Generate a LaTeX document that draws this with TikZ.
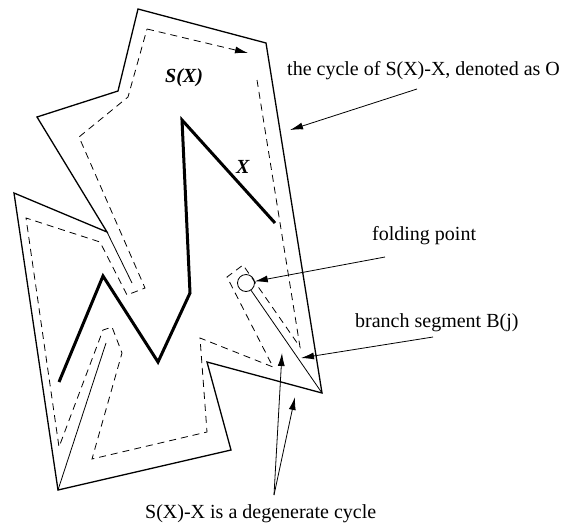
\documentclass[tikz,border=0pt]{standalone}
\usepackage{fontspec}
\setmainfont{Liberation Serif}
\usetikzlibrary{arrows.meta}
\tikzset{
  outer/.style={line width=1.3pt, line join=miter},
  thinline/.style={line width=0.8pt},
  xpath/.style={line width=3pt, line join=miter},
  dcycle/.style={line width=0.8pt, dash pattern=on 7pt off 5pt},
  pointer/.style={line width=0.8pt, -{Latex[length=13pt,width=7pt]}},
  lbl/.style={anchor=base west, inner sep=0pt, font=\fontsize{20}{24}\selectfont},
  blbl/.style={anchor=base west, inner sep=0pt, font=\fontsize{20}{24}\selectfont\bfseries\itshape},
}
\begin{document}
\begin{tikzpicture}[x=1pt,y=-1pt]
\useasboundingbox (0,0) rectangle (561,525);
% outer cycle vertices
\coordinate (A) at (138,9);
\coordinate (B) at (266,43);
\coordinate (C) at (322,393);
\coordinate (D) at (207,362);
\coordinate (E) at (231,450);
\coordinate (F) at (58,490);
\coordinate (G) at (14,193);
\coordinate (H) at (107,232);
\coordinate (K) at (37,117);
\coordinate (L) at (118,91);
\coordinate (M) at (132,283);
\coordinate (N) at (106,343);
\node[circle, draw, thinline, minimum size=17pt, inner sep=0pt] (fold) at (246,283) {};
\draw[outer] (A) -- (B) -- (C) -- (D) -- (E) -- (F) -- (G) -- (H) -- (K) -- (L) -- cycle;
% branch segments
\draw[thinline] (H) -- (M);
\draw[thinline] (F) -- (N);
\draw[thinline] (C) -- (fold);
% X
\draw[xpath] (275,223) -- (182,120) -- (190,293) -- (158,362) -- (103,276) -- (59,382);
% dashed cycle
\coordinate (d0) at (147,29);
\coordinate (d1) at (248,53);
\coordinate (d2) at (257,80);
\draw[dcycle, -{Latex[length=13pt,width=7pt]}] (d0) -- (d1);
\draw[dcycle] (d2) -- (300,347) -- (243,265) -- (227,277) -- (273,367) -- (200,338) -- (207,432)
  -- (92,459) -- (122,353) -- (112,327) -- (103,330) -- (59,447) -- (26,218) -- (100,242)
  -- (127,295) -- (145,288) -- (79,137) -- (128,97) -- (d0);
% labels
\node[blbl] (sx) at (165,82) {S(X)};
\node[blbl] (xl) at (236,173) {X};
\node[lbl] (cyc) at (287,75) {the cycle of S(X)-X, denoted as O};
\node[lbl] (fp) at (372,240) {folding point};
\node[lbl] (bs) at (355,327) {branch segment B(j)};
\node[lbl] (dg) at (145,518) {S(X)-X is a degenerate cycle};
% pointers
\coordinate (c0) at (417,89);
\coordinate (c1) at (290,130);
\draw[pointer] (c0) -- (c1);
\coordinate (f0) at (385,257);
\draw[pointer] (f0) -- (fold);
\coordinate (b0) at (433,337);
\coordinate (b1) at (301,358);
\draw[pointer] (b0) -- (b1);
\coordinate (g0) at (274,495);
\coordinate (g1) at (282,353);
\coordinate (g2) at (295,397);
\draw[pointer] (g0) -- (g1);
\draw[pointer] (g0) -- (g2);
\end{tikzpicture}
\end{document}
